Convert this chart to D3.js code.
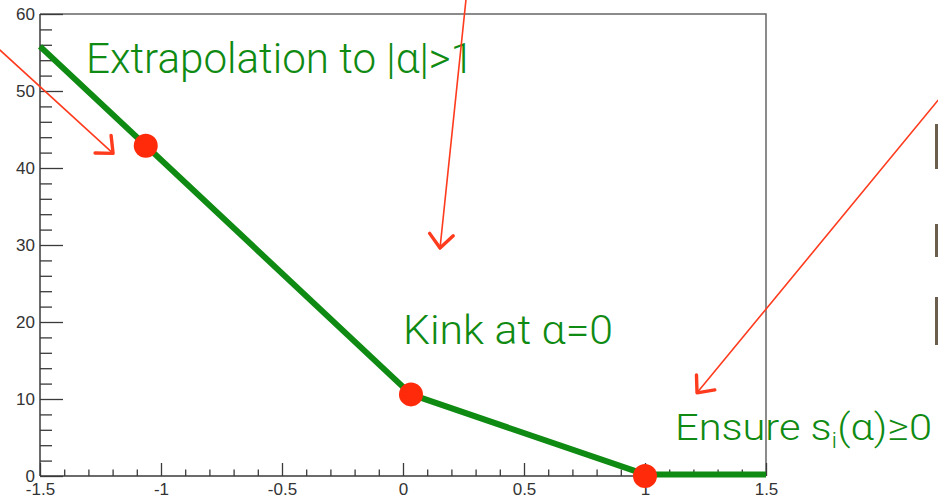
<!DOCTYPE html>
<html>
<head>
<meta charset="utf-8">
<script src="https://cdn.jsdelivr.net/npm/d3@7"></script>
<style>
  html, body { margin: 0; padding: 0; background: #fff; }
  svg { display: block; }
</style>
</head>
<body>
<svg id="chart" width="938" height="499"></svg>
<script>
// Interpolation curve vertices (alpha, value)
const curveAlpha = [-1.5, 0.033, 1.0, 1.5];
const curveValue = [55.8, 10.6, 0.2, 0.2];

// Marked points on the curve
const pointAlpha = [-1.063, 0.033, 1.0];
const pointValue = [42.9, 10.6, 0.0];

// Axis ticks
const xMajorTicks = [-1.5, -1, -0.5, 0, 0.5, 1, 1.5];
const xTickLabels = ["-1.5", "-1", "-0.5", "0", "0.5", "1", "1.5"];
const yMajorTicks = [0, 10, 20, 30, 40, 50, 60];
const yTickLabels = ["0", "10", "20", "30", "40", "50", "60"];

// Annotation arrows: start and tip in data units
const arrowStart = [[-1.665, 55.3], [0.260, 61.8], [2.211, 48.8]];
const arrowTip   = [[-1.198, 41.9], [0.153, 29.6], [1.215, 10.8]];

(function () {
  const svg = d3.select("#chart");
  const plotLeft = 40, plotRight = 766, plotTop = 14, plotBottom = 476;

  const x = d3.scaleLinear().domain([-1.5, 1.5]).range([plotLeft, plotRight]);
  const y = d3.scaleLinear().domain([0, 60]).range([plotBottom, plotTop]);

  const axisColor = "#3a3a3a";
  const green = "#0f8a12";
  const red = "#ff2a0a";

  // Frame (top and right edges)
  svg.append("path")
    .attr("d", `M${plotLeft},${plotTop}H${plotRight}V${plotBottom}`)
    .attr("fill", "none").attr("stroke", "#666").attr("stroke-width", 1.5);

  // Minor ticks
  const xMinor = d3.range(-15, 16).map(d => d / 10)
    .filter(d => !xMajorTicks.some(t => Math.abs(t - d) < 1e-9));
  const yMinor = d3.range(0, 61, 2).filter(d => d % 10 !== 0);

  svg.append("g").attr("transform", `translate(0,${plotBottom})`)
    .call(d3.axisBottom(x).tickValues(xMinor).tickSize(-6.5).tickFormat(""))
    .call(g => g.select(".domain").remove())
    .selectAll("line").attr("stroke", axisColor).attr("stroke-width", 1.3);

  svg.append("g").attr("transform", `translate(${plotLeft},0)`)
    .call(d3.axisLeft(y).tickValues(yMinor).tickSize(-12).tickFormat(""))
    .call(g => g.select(".domain").remove())
    .selectAll("line").attr("stroke", axisColor).attr("stroke-width", 1.3);

  // Major axes
  const xAxis = svg.append("g").attr("transform", `translate(0,${plotBottom})`)
    .call(d3.axisBottom(x).tickValues(xMajorTicks).tickSize(-13).tickPadding(7)
      .tickFormat((d, i) => xTickLabels[i]));
  xAxis.select(".domain").attr("d", `M${plotLeft},0H${plotRight}`)
    .attr("stroke", axisColor).attr("stroke-width", 1.5);
  xAxis.selectAll("line").attr("stroke", axisColor).attr("stroke-width", 1.3);
  xAxis.selectAll("text").attr("font-family", "Liberation Sans, Arial, sans-serif")
    .attr("font-size", 17).attr("fill", "#333");

  const yAxis = svg.append("g").attr("transform", `translate(${plotLeft},0)`)
    .call(d3.axisLeft(y).tickValues(yMajorTicks).tickSize(-23).tickPadding(5)
      .tickFormat((d, i) => yTickLabels[i]));
  yAxis.select(".domain").attr("d", `M0,${plotTop}V${plotBottom}`)
    .attr("stroke", axisColor).attr("stroke-width", 1.5);
  yAxis.selectAll("line").attr("stroke", axisColor).attr("stroke-width", 1.3);
  yAxis.selectAll("text").attr("font-family", "Liberation Sans, Arial, sans-serif")
    .attr("font-size", 17).attr("fill", "#333");

  // Piecewise-linear curve
  const curve = curveAlpha.map((a, i) => [a, curveValue[i]]);
  svg.append("path")
    .datum(curve)
    .attr("d", d3.line().x(d => x(d[0])).y(d => y(d[1])))
    .attr("fill", "none").attr("stroke", green).attr("stroke-width", 6)
    .attr("stroke-linejoin", "round");

  // Red markers
  svg.selectAll("circle.pt")
    .data(pointAlpha.map((a, i) => [a, pointValue[i]]))
    .join("circle").attr("class", "pt")
    .attr("cx", d => x(d[0])).attr("cy", d => y(d[1])).attr("r", 12)
    .attr("fill", red);

  // Annotation text
  const labelFont = "Roboto, 'Open Sans', 'Liberation Sans', sans-serif";
  function label(a, v, width, size, build) {
    const t = svg.append("text")
      .attr("x", x(a)).attr("y", y(v))
      .attr("font-family", labelFont).attr("font-weight", 300)
      .attr("font-size", size).attr("fill", green)
      .attr("textLength", width).attr("lengthAdjust", "spacingAndGlyphs");
    build(t);
  }
  label(-1.31, 52.3, 388, 42, t => t.text("Extrapolation to |α|>1"));
  label(0.0, 17.2, 210, 40, t => t.text("Kink at α=0"));
  label(1.1240, 4.68, 257, 37, t => {
    t.append("tspan").text("Ensure s");
    t.append("tspan").attr("font-size", 22).attr("dy", 8).text("i");
    t.append("tspan").attr("dy", -8).text("(α)≥0");
  });

  // Arrows
  const arrowG = svg.append("g").attr("stroke", "#ff3b1e").attr("fill", "none")
    .attr("stroke-linecap", "round").attr("stroke-linejoin", "round");
  arrowStart.forEach((s, i) => {
    const x1 = x(s[0]), y1 = y(s[1]);
    const x2 = x(arrowTip[i][0]), y2 = y(arrowTip[i][1]);
    arrowG.append("line").attr("x1", x1).attr("y1", y1).attr("x2", x2).attr("y2", y2)
      .attr("stroke-width", 1.6);
    const ang = Math.atan2(y1 - y2, x1 - x2);
    const len = 18, spread = 0.72;
    const p1 = [x2 + len * Math.cos(ang + spread), y2 + len * Math.sin(ang + spread)];
    const p2 = [x2 + len * Math.cos(ang - spread), y2 + len * Math.sin(ang - spread)];
    arrowG.append("path")
      .attr("d", `M${p1[0]},${p1[1]}L${x2},${y2}L${p2[0]},${p2[1]}`)
      .attr("stroke-width", 3.4);
  });

  // Edge of neighbouring slide content
  const stubs = [[124, 169], [224, 257], [297, 345]];
  svg.selectAll("rect.stub").data(stubs).join("rect").attr("class", "stub")
    .attr("x", 935).attr("width", 4)
    .attr("y", d => d[0]).attr("height", d => d[1] - d[0])
    .attr("fill", "#6b5e4c");
})();
</script>
</body>
</html>
